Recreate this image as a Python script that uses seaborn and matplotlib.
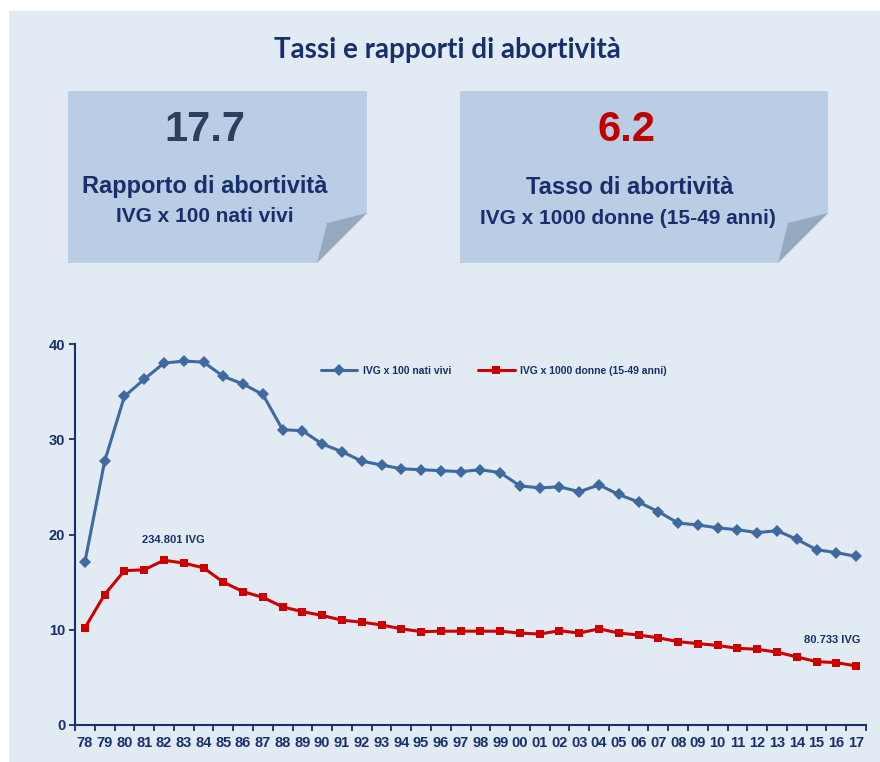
import matplotlib
matplotlib.use("Agg")
import matplotlib.pyplot as plt
from matplotlib.patches import Polygon, Rectangle
from matplotlib.lines import Line2D
import seaborn as sns
import pandas as pd

# ---------------- data ----------------
years = ["78", "79", "80", "81", "82", "83", "84", "85", "86", "87",
         "88", "89", "90", "91", "92", "93", "94", "95", "96", "97",
         "98", "99", "00", "01", "02", "03", "04", "05", "06", "07",
         "08", "09", "10", "11", "12", "13", "14", "15", "16", "17"]
rapporto = [17.1, 27.7, 34.5, 36.3, 38.0, 38.2, 38.1, 36.6, 35.8, 34.7,
            31.0, 30.9, 29.5, 28.7, 27.7, 27.3, 26.9, 26.8, 26.7, 26.6,
            26.8, 26.5, 25.1, 24.9, 25.0, 24.5, 25.2, 24.2, 23.4, 22.4,
            21.2, 21.0, 20.7, 20.5, 20.2, 20.4, 19.5, 18.4, 18.1, 17.7]
tasso = [10.2, 13.7, 16.2, 16.3, 17.3, 17.0, 16.5, 15.0, 14.0, 13.4,
         12.4, 11.9, 11.5, 11.0, 10.8, 10.5, 10.1, 9.8, 9.85, 9.85,
         9.85, 9.85, 9.65, 9.55, 9.9, 9.65, 10.1, 9.65, 9.45, 9.15,
         8.75, 8.55, 8.35, 8.05, 7.95, 7.65, 7.15, 6.65, 6.55, 6.2]
series_names = ["IVG x 100 nati vivi", "IVG x 1000 donne (15-49 anni)"]
y_ticks = [0, 10, 20, 30, 40]
title = "Tassi e rapporti di abortività"
box_values = ["17.7", "6.2"]
box_titles = ["Rapporto di abortività", "Tasso di abortività"]
box_subtitles = ["IVG x 100 nati vivi", "IVG x 1000 donne (15-49 anni)"]
annot_texts = ["234.801 IVG", "80.733 IVG"]

# ---------------- style ----------------
BG = "#E2EAF4"
BOX = "#B9CDE4"
FOLD = "#97A9BE"
NAVY = "#172F6A"
BLUE = "#3F6A9F"
RED = "#CC0000"

sns.set_theme(style="white")
plt.rcParams['font.family'] = ['Liberation Sans', 'DejaVu Sans']

fig = plt.figure(figsize=(8.8, 7.62), dpi=100)
fig.patch.set_facecolor("white")

# background layer in pixel coordinates
bg = fig.add_axes([0, 0, 1, 1], zorder=0)
bg.set_xlim(0, 880)
bg.set_ylim(762, 0)
bg.axis("off")
bg.add_patch(Rectangle((9, 11), 871, 751, color=BG, lw=0))

# boxes with folded corner
boxes = [(68, 367), (460, 828)]
for (x0, x1) in boxes:
    main = [(x0, 91), (x1, 91), (x1, 213), (x1 - 50, 263), (x0, 263)]
    bg.add_patch(Polygon(main, closed=True, color=BOX, lw=0))
    fold = [(x1, 213), (x1 - 40, 223), (x1 - 50, 263)]
    bg.add_patch(Polygon(fold, closed=True, color=FOLD, lw=0))

bg.text(447, 50, title, ha="center", va="center", fontsize=20,
        fontweight="bold", color=NAVY, family=["Lato", "DejaVu Sans"])

value_pos = [(205, 130), (626, 130)]
value_colors = ["#2A405E", "#C00000"]
for (x, y), v, c in zip(value_pos, box_values, value_colors):
    bg.text(x, y, v, ha="center", va="center", fontsize=30,
            fontweight="bold", color=c)
title_pos = [(205, 187), (630, 188)]
sub_pos = [(205, 217), (628, 218)]
for (x, y), t in zip(title_pos, box_titles):
    bg.text(x, y, t, ha="center", va="center", fontsize=17,
            fontweight="bold", color=NAVY)
for (x, y), t in zip(sub_pos, box_subtitles):
    bg.text(x, y, t, ha="center", va="center", fontsize=15,
            fontweight="bold", color=NAVY)

# ---------------- chart ----------------
ax = fig.add_axes([75 / 880, 37 / 762, 791 / 880, 381 / 762], zorder=1)
ax.patch.set_alpha(0)

n = len(years)
df = pd.DataFrame({
    "pos": list(range(n)) * 2,
    "valore": rapporto + tasso,
    "serie": [series_names[0]] * n + [series_names[1]] * n,
})
sns.lineplot(data=df, x="pos", y="valore", hue="serie", style="serie",
             hue_order=series_names, style_order=series_names,
             palette={series_names[0]: BLUE, series_names[1]: RED},
             markers={series_names[0]: "D", series_names[1]: "s"},
             dashes=False, linewidth=2.2, markersize=6,
             markeredgewidth=0, legend=False, ax=ax)

ax.set_xlim(-0.5, n - 0.5)
ax.set_ylim(0, 40)
ax.set_xlabel("")
ax.set_ylabel("")
ax.set_xticks(range(n))
ax.set_xticklabels(years)
ax.set_xticks([i - 0.5 for i in range(n + 1)], minor=True)
ax.set_yticks(y_ticks)
ax.set_yticklabels([str(v) for v in y_ticks])
ax.tick_params(axis="x", which="major", length=0, pad=8, labelsize=10.5,
               labelcolor=NAVY)
ax.tick_params(axis="x", which="minor", length=4, width=1.3, color=NAVY,
               direction="out", bottom=True)
ax.tick_params(axis="y", which="major", length=4, width=1.3, color=NAVY,
               direction="out", left=True, pad=3, labelsize=10.5,
               labelcolor=NAVY)
for lbl in ax.get_xticklabels() + ax.get_yticklabels():
    lbl.set_fontweight("bold")

for side in ["top", "right"]:
    ax.spines[side].set_visible(False)
for side in ["left", "bottom"]:
    ax.spines[side].set_color(NAVY)
    ax.spines[side].set_linewidth(1.5)
ax.grid(False)

handles = [
    Line2D([], [], color=BLUE, lw=2.2, marker="D", markersize=6, mew=0),
    Line2D([], [], color=RED, lw=2.2, marker="s", markersize=6, mew=0),
]
leg = ax.legend(handles, series_names, ncol=2, frameon=False,
                loc="center left", bbox_to_anchor=(0.311, 0.93),
                borderpad=0, borderaxespad=0, handlelength=3.5,
                handletextpad=0.5, columnspacing=2.6,
                prop={"weight": "bold", "size": 7.5})
for t in leg.get_texts():
    t.set_color(NAVY)

ax.text(4.45, 19.45, annot_texts[0], ha="center", va="center",
        fontsize=8, fontweight="bold", color=NAVY)
ax.text(37.8, 8.9, annot_texts[1], ha="center", va="center",
        fontsize=8, fontweight="bold", color=NAVY)

fig.savefig("out.png", dpi=100, facecolor=fig.get_facecolor())
